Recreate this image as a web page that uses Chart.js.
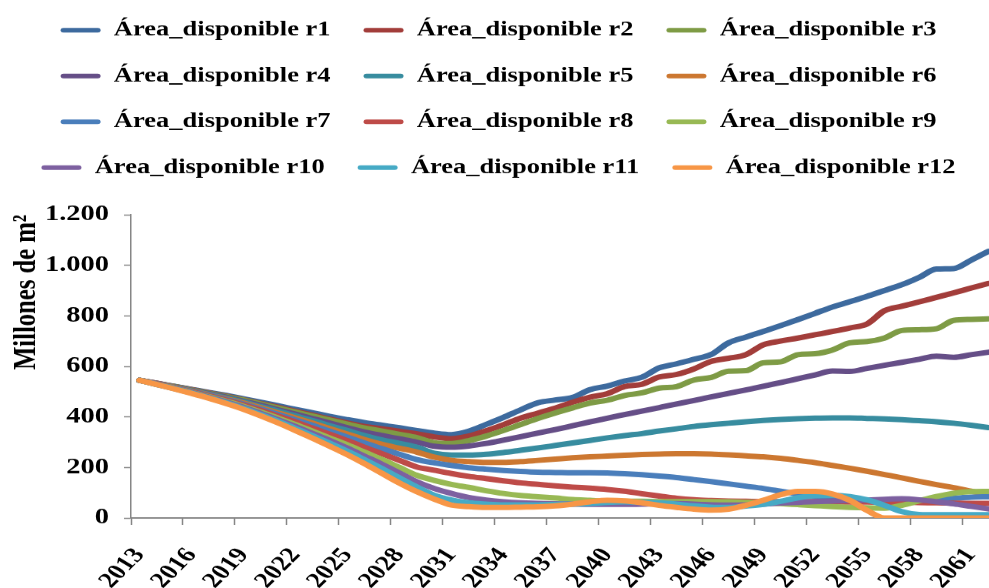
<!DOCTYPE html>
<html>
<head>
<meta charset="utf-8">
<script src="https://cdn.jsdelivr.net/npm/chart.js@4.4.1/dist/chart.umd.min.js"></script>
<style>
  html, body { margin: 0; padding: 0; background: #ffffff; overflow: hidden; }
  #wrap { width: 989px; height: 588px; overflow: hidden; position: relative; background: #ffffff; }
  #c { display: block; width: 1000px; height: 588px; }
</style>
</head>
<body>
<div id="wrap"><canvas id="c" width="1000" height="764" style="width:1000px;height:588px;"></canvas></div>
<script>
const years = ['2013','2014','2015','2016','2017','2018','2019','2020','2021','2022',
  '2023','2024','2025','2026','2027','2028','2029','2030','2031','2032',
  '2033','2034','2035','2036','2037','2038','2039','2040','2041','2042',
  '2043','2044','2045','2046','2047','2048','2049','2050','2051','2052',
  '2053','2054','2055','2056','2057','2058','2059','2060','2061','2062'];

const seriesNames = ['Área_disponible r1','Área_disponible r2','Área_disponible r3','Área_disponible r4',
  'Área_disponible r5','Área_disponible r6','Área_disponible r7','Área_disponible r8',
  'Área_disponible r9','Área_disponible r10','Área_disponible r11','Área_disponible r12'];

const r1 = [545,533,521,509,497,485,472,458,444,430,416,402,389,377,367,357,346,336,330,343,
  370,398,428,456,467,477,508,522,542,557,594,610,628,647,693,716,738,761,785,810,
  835,856,877,900,923,952,985,987,1020,1055];
const r2 = [545,533,520,508,495,482,468,453,438,422,407,391,376,362,353,343,333,321,314,324,
  345,369,395,415,435,458,478,492,520,529,558,568,590,620,632,646,685,700,712,725,
  738,752,768,820,838,855,873,891,910,928];
const r3 = [545,532,520,507,494,481,467,451,435,419,403,387,371,356,344,331,318,298,295,306,
  324,346,370,394,416,436,455,466,485,495,514,520,546,556,581,583,614,618,646,650,
  665,693,698,712,742,745,749,782,786,788];
const r4 = [545,532,519,505,492,478,462,446,428,411,393,375,357,340,326,313,300,284,280,285,
  295,308,322,336,350,365,380,395,409,423,437,451,465,479,493,507,521,536,551,566,
  582,580,592,604,616,628,640,636,646,656];
const r5 = [545,531,518,504,490,475,459,441,423,404,385,365,346,326,309,295,280,256,249,249,
  252,259,268,277,287,297,307,317,326,334,344,353,362,369,375,381,386,390,393,395,
  396,396,394,392,389,385,381,375,367,358];
const r6 = [545,531,517,502,488,472,455,436,416,396,375,353,332,310,291,276,261,241,228,223,
  220,220,223,228,233,238,242,245,248,251,253,254,254,253,250,246,242,236,228,219,
  208,197,185,172,159,145,132,120,106,92];
const r7 = [545,530,516,501,486,469,451,431,410,388,366,343,320,296,274,252,231,218,208,199,
  193,188,184,181,180,179,179,178,175,171,166,160,152,144,135,126,117,106,95,85,
  78,73,70,68,68,70,74,78,82,84];
const r8 = [545,530,515,499,483,466,447,426,403,380,355,331,306,279,254,228,202,189,176,165,
  156,147,139,133,127,122,118,113,106,96,87,78,72,69,67,66,65,65,65,65,
  64,63,63,62,62,61,60,59,58,58];
const r9 = [545,529,514,497,480,462,442,419,395,370,343,316,289,260,231,200,169,149,133,121,
  108,97,89,84,79,73,70,67,66,66,65,65,65,65,64,62,60,57,53,49,
  45,42,40,39,50,68,85,98,104,105];
const r10 = [545,529,513,496,478,459,438,414,389,362,334,306,276,244,212,178,143,117,97,81,
  71,64,60,58,56,55,54,54,54,55,57,57,55,52,51,52,55,59,62,65,
  67,69,71,74,76,72,64,56,46,36];
const r11 = [545,528,512,495,476,456,434,409,383,354,325,295,264,230,195,159,123,90,71,60,
  55,52,52,52,54,55,57,62,64,62,60,55,48,43,42,47,54,66,80,88,
  90,85,72,50,25,14,13,13,13,13];
const r12 = [545,528,511,493,474,453,430,404,376,346,315,283,250,214,176,138,104,75,51,45,
  42,42,43,44,48,55,64,70,68,60,50,42,35,31,35,50,70,92,105,105,
  95,70,30,0,0,0,0,0,0,0];

const seriesValues = [r1,r2,r3,r4,r5,r6,r7,r8,r9,r10,r11,r12];
const seriesColors = ['#3D6A9E','#A23D3A','#7E9B45','#654E87','#378C9F','#CC7730',
  '#4A7EBB','#BE4B48','#98B954','#7D60A0','#46AAC5','#F79646'];

const SERIF = '"Liberation Serif", "Times New Roman", Times, serif';
const AXIS_GREY = '#868686';

const datasets = seriesValues.map((vals, i) => ({
  label: seriesNames[i],
  data: vals,
  borderColor: seriesColors[i],
  backgroundColor: seriesColors[i],
  borderWidth: 7,
  pointRadius: 0,
  pointHoverRadius: 0,
  fill: false,
  cubicInterpolationMode: 'monotone',
  borderCapStyle: 'round',
  borderJoinStyle: 'round',
  order: seriesValues.length - i
}));

const legendSpacer = {
  id: 'legendSpacer',
  beforeLayout(chart) {
    const lg = chart.legend;
    if (lg && !lg._spacerPatched) {
      const orig = lg.fit;
      lg.fit = function() { orig.call(this); this.height += 38; };
      lg._spacerPatched = true;
    }
  }
};

function formatThousands(v) {
  return String(v).replace(/\B(?=(\d{3})+(?!\d))/g, '.');
}

new Chart(document.getElementById('c'), {
  type: 'line',
  data: { labels: years, datasets: datasets },
  plugins: [legendSpacer],
  options: {
    responsive: false,
    maintainAspectRatio: false,
    devicePixelRatio: 1,
    animation: false,
    layout: { padding: { top: -7, left: 0, right: 3, bottom: 0 } },
    plugins: {
      tooltip: { enabled: false },
      legend: {
        display: true,
        position: 'top',
        align: 'center',
        labels: {
          color: '#000000',
          font: { family: SERIF, size: 26.5, weight: 'bold' },
          boxWidth: 40,
          boxHeight: 6,
          padding: 33,
          useBorderRadius: true,
          borderRadius: 3,
          sort: (a, b) => a.datasetIndex - b.datasetIndex,
          generateLabels(chart) {
            const items = Chart.defaults.plugins.legend.labels.generateLabels(chart);
            items.forEach(it => { it.lineWidth = 0; it.fillStyle = it.strokeStyle; });
            return items;
          }
        }
      }
    },
    scales: {
      x: {
        type: 'category',
        offset: true,
        afterFit(scale) {
          scale.height = 91;
          scale.paddingLeft = 0;
          scale.paddingRight = 0;
        },
        grid: {
          display: true,
          offset: true,
          drawOnChartArea: false,
          drawTicks: true,
          tickLength: 9,
          tickWidth: 1.5,
          tickColor: (ctx) => (ctx.index % 3 === 0 ? AXIS_GREY : 'rgba(0,0,0,0)')
        },
        border: { display: true, color: AXIS_GREY, width: 2 },
        ticks: {
          autoSkip: false,
          minRotation: 52,
          maxRotation: 52,
          padding: 24,
          color: '#000000',
          font: { family: SERIF, size: 28, weight: 'bold' },
          callback: (value, index) => (index % 3 === 0 ? years[index] : '')
        }
      },
      y: {
        min: 0,
        max: 1200,
        afterFit(scale) { scale.width = 131; },
        grid: {
          display: true,
          drawOnChartArea: false,
          drawTicks: true,
          tickLength: 7,
          tickWidth: 1.5,
          tickColor: AXIS_GREY
        },
        border: { display: true, color: AXIS_GREY, width: 1.5 },
        ticks: {
          stepSize: 200,
          padding: 15,
          color: '#000000',
          font: { family: SERIF, size: 28.5, weight: 'bold' },
          callback: (value) => formatThousands(value)
        },
        title: {
          display: true,
          text: 'Millones de m²',
          align: 'end',
          color: '#000000',
          font: { family: SERIF, size: 32, weight: 'bold' },
          padding: { top: 8, bottom: 0 }
        }
      }
    }
  }
});
</script>
</body>
</html>
